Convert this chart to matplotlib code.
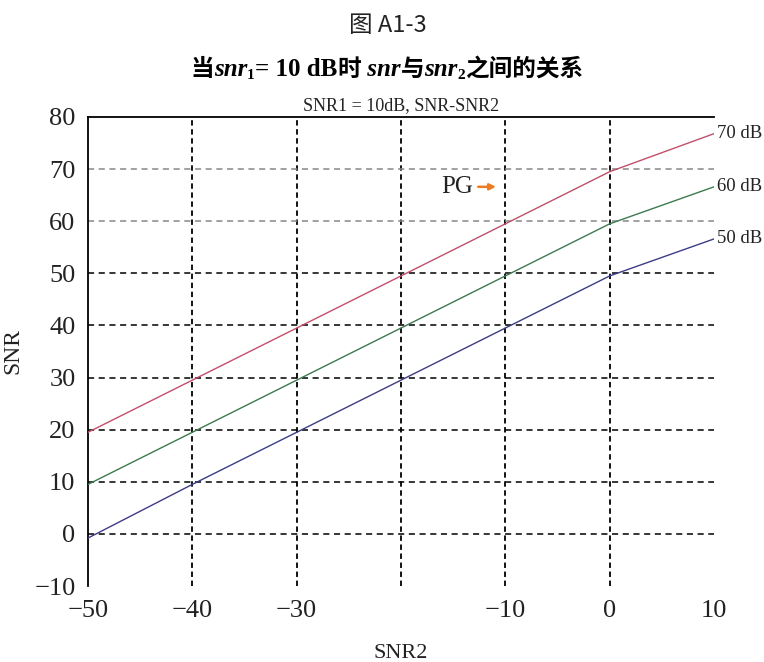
import matplotlib
matplotlib.use('Agg')
import matplotlib.pyplot as plt
from matplotlib.font_manager import FontProperties

# ---- data ----
snr2 = [-50, -40, -30, -20, -10, 0, 10]
snr_50 = [-0.8, 9.5, 19.5, 29.5, 39.5, 49.5, 56.6]
snr_60 = [9.5, 19.5, 29.5, 39.5, 49.5, 59.5, 66.6]
snr_70 = [19.5, 29.5, 39.5, 49.5, 59.5, 69.5, 76.8]
curve_labels = ["50 dB", "60 dB", "70 dB"]
xtick_vals = [-50, -40, -30, -10, 0, 10]
xtick_labels = ["\u221250", "\u221240", "\u221230", "\u221210", "0", "10"]
ytick_vals = list(range(-10, 81, 10))

SERIF = ['Liberation Serif', 'DejaVu Serif']
CJK = ['Noto Sans CJK SC', 'Liberation Serif']
plt.rcParams['font.family'] = SERIF

fig = plt.figure(figsize=(7.64, 6.62), dpi=100)
ax = fig.add_axes([0.1152, 0.1148, 0.8194, 0.7085])

colors = ["#3c3c88", "#3e7a4e", "#c0506a"]
for ys, c, lab in zip([snr_50, snr_60, snr_70], colors, curve_labels):
    ax.plot(snr2, ys, color=c, lw=1.0, zorder=3)
    ax.text(snr2[-1] + 0.25, ys[-1], lab, fontsize=13.5, va='center', ha='left',
            color='#222222', clip_on=False)

ax.set_xlim(-50, 10)
ax.set_ylim(-10, 80)

# grid lines
for xv in [-40, -30, -20, -10, 0]:
    ax.axvline(xv, color='black', lw=1.3, ls=(0, (3, 2)), zorder=1)
for yv in range(0, 80, 10):
    c = '#888888' if yv >= 60 else 'black'
    ax.axhline(yv, color=c, lw=1.1, ls=(0, (4, 3)), zorder=1)

ax.set_xticks(xtick_vals)
ax.set_xticklabels(xtick_labels)
ax.set_yticks(ytick_vals)
ax.set_yticklabels([str(v) if v >= 0 else "\u2212" + str(-v) for v in ytick_vals])
ax.tick_params(length=0, labelsize=19, colors='#222222')
ax.tick_params(axis='x', pad=10)
ax.tick_params(axis='y', pad=9)
ax.spines['right'].set_visible(False)
ax.spines['bottom'].set_visible(False)
ax.spines['left'].set_linewidth(1.3)
ax.spines['top'].set_linewidth(1.3)

ax.set_xlabel("SNR2", fontsize=16, labelpad=16, color='#222222')
ax.set_ylabel("SNR", fontsize=17, labelpad=8, color='#222222')
ax.set_title("SNR1 = 10dB, SNR-SNR2", fontsize=13, pad=5, color='#222222')

# PG annotation
ax.text(-13.1, 66.6, "PG", fontsize=18, ha='right', va='center', color='#222222')
ax.annotate("", xy=(-10.9, 66.6), xytext=(-12.6, 66.6),
            arrowprops=dict(arrowstyle='-|>', color='#f07a20', lw=1.8,
                            mutation_scale=9, shrinkA=0, shrinkB=0))

# figure caption
fig.text(0.508, 0.962, "图 A1-3", fontsize=17, ha='center', va='center',
         family=CJK, color='#222222')

# bold mixed title, laid out piece by piece
bold_cjk = FontProperties(family=CJK, weight='bold', size=17)
bold_it = FontProperties(family=SERIF, weight='bold', style='italic', size=18)
bold_rm = FontProperties(family=SERIF, weight='bold', size=18)
sub = FontProperties(family=SERIF, weight='bold', size=11)
pieces = [("当", bold_cjk, 0), ("snr", bold_it, 0), ("1", sub, -3),
          ("= 10 dB", bold_rm, 0), ("时", bold_cjk, 0), (" snr", bold_it, 0),
          ("与", bold_cjk, 0), ("snr", bold_it, 0), ("2", sub, -3),
          ("之间的关系", bold_cjk, 0)]
renderer = fig.canvas.get_renderer()
texts = []
for s, fp, dy in pieces:
    t = fig.text(0, 0, s, fontproperties=fp, va='baseline', ha='left')
    texts.append((t, dy))
widths = [t.get_window_extent(renderer).width for t, _ in texts]
total = sum(widths)
cx = 0.506 * fig.bbox.width
x = cx - total / 2
base_y = (1 - 76 / 662) * fig.bbox.height
for (t, dy), w in zip(texts, widths):
    t.set_transform(None)
    t.set_position((x, base_y + dy))
    x += w

fig.savefig("out.png", dpi=100)
